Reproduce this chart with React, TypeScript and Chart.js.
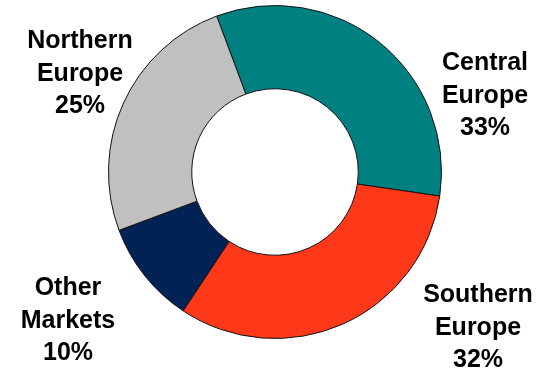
import React, { useEffect, useRef } from "react";
import { Chart, registerables } from "chart.js";

Chart.register(...registerables);

const categories = ["Central Europe", "Southern Europe", "Other Markets", "Northern Europe"];
const shares = [33, 32, 10, 25];
const labelLines = [
  ["Central", "Europe", "33%"],
  ["Southern", "Europe", "32%"],
  ["Other", "Markets", "10%"],
  ["Northern", "Europe", "25%"],
];
const colors = ["#008080", "#FF3819", "#002255", "#C0C0C0"];

// label anchor (center x, first baseline y) in canvas px
const labelAnchors = [
  { x: 485, y: 70 },
  { x: 478, y: 302 },
  { x: 68, y: 295 },
  { x: 80, y: 48 },
];

const labelPlugin = {
  id: "sliceLabels",
  afterDraw(chart: any) {
    const ctx = chart.ctx;
    ctx.save();
    ctx.font = "bold 25px 'Liberation Sans', Arial, sans-serif";
    ctx.fillStyle = "#000";
    ctx.textAlign = "center";
    ctx.textBaseline = "alphabetic";
    labelLines.forEach((lines, i) => {
      const a = labelAnchors[i];
      lines.forEach((t, j) => {
        ctx.fillText(t, a.x, a.y + j * 32.5);
      });
    });
    ctx.restore();
  },
};

export default function App() {
  const ref = useRef<HTMLCanvasElement>(null);
  useEffect(() => {
    document.body.style.margin = "0";
    const chart = new Chart(ref.current!, {
      type: "doughnut",
      data: {
        labels: categories,
        datasets: [
          {
            data: shares,
            backgroundColor: colors,
            borderColor: "#111",
            borderWidth: 1,
          },
        ],
      },
      options: {
        animation: false,
        responsive: false,
        cutout: "50%",
        rotation: -20.5,
        layout: { padding: { left: 108, right: 97, top: 5, bottom: 31 } },
        plugins: { legend: { display: false }, tooltip: { enabled: false } },
      },
      plugins: [labelPlugin],
    });
    return () => chart.destroy();
  }, []);
  return (
    <div style={{ width: 539, height: 370, background: "#fff" }}>
      <canvas ref={ref} width={539} height={370} style={{ display: "block" }} />
    </div>
  );
}
